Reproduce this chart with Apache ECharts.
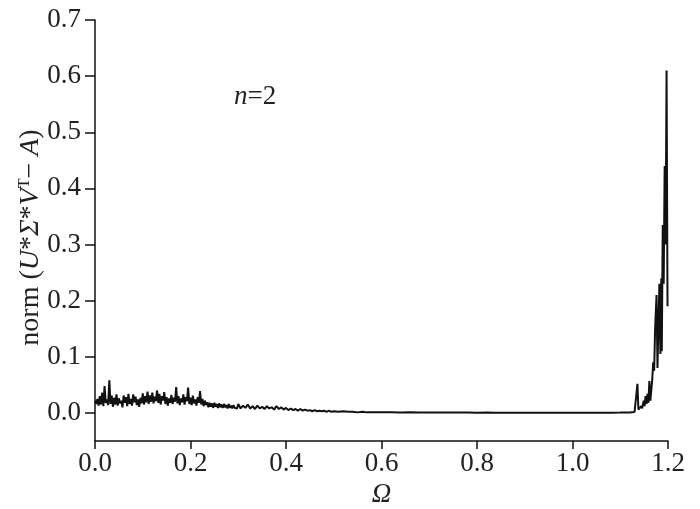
<!DOCTYPE html>
<html>
<head>
<meta charset="utf-8">
<script src="https://cdn.jsdelivr.net/npm/echarts@6/dist/echarts.min.js"></script>
<style>html,body{margin:0;padding:0;background:#fff;}#c{width:700px;height:509px;}</style>
</head>
<body>
<div id="c"></div>
<script>
// Ω values (x)
const omega = [
0.0000,0.0025,0.0050,0.0075,0.0100,0.0125,0.0150,0.0175,0.0200,0.0225,
0.0250,0.0275,0.0300,0.0325,0.0350,0.0375,0.0400,0.0425,0.0450,0.0475,
0.0500,0.0525,0.0550,0.0575,0.0600,0.0625,0.0650,0.0675,0.0700,0.0725,
0.0750,0.0775,0.0800,0.0825,0.0850,0.0875,0.0900,0.0925,0.0950,0.0975,
0.1000,0.1025,0.1050,0.1075,0.1100,0.1125,0.1150,0.1175,0.1200,0.1225,
0.1250,0.1275,0.1300,0.1325,0.1350,0.1375,0.1400,0.1425,0.1450,0.1475,
0.1500,0.1525,0.1550,0.1575,0.1600,0.1625,0.1650,0.1675,0.1700,0.1725,
0.1750,0.1775,0.1800,0.1825,0.1850,0.1875,0.1900,0.1925,0.1950,0.1975,
0.2000,0.2025,0.2050,0.2075,0.2100,0.2125,0.2150,0.2175,0.2200,0.2225,
0.2250,0.2275,0.2300,0.2325,0.2350,0.2375,0.2400,0.2425,0.2450,0.2475,
0.2500,0.2525,0.2550,0.2575,0.2600,0.2625,0.2650,0.2675,0.2700,0.2725,
0.2750,0.2775,0.2800,0.2825,0.2850,0.2875,0.2900,0.2925,0.2950,0.2975,
0.300,0.305,0.310,0.315,0.320,0.325,0.330,0.335,0.340,0.345,
0.350,0.355,0.360,0.365,0.370,0.375,0.380,0.385,0.390,0.395,
0.400,0.405,0.410,0.415,0.420,0.425,0.430,0.435,0.440,0.445,
0.450,0.455,0.460,0.465,0.470,0.475,0.480,0.485,0.490,0.495,
0.500,0.510,0.520,0.530,0.540,0.550,0.560,0.570,0.580,0.600,
0.620,0.640,0.660,0.680,0.700,0.720,0.740,0.760,0.780,0.800,
0.820,0.840,0.860,0.880,0.900,0.920,0.940,0.960,0.980,1.000,
1.020,1.040,1.060,1.080,1.100,1.120,1.125,1.130,1.133,1.136,
1.138,1.140,1.144,1.146,1.149,1.151,1.153,1.155,1.157,1.159,
1.161,1.163,1.165,1.167,1.169,1.171,1.173,1.176,1.178,1.180,
1.182,1.184,1.186,1.187,1.189,1.191,1.193,1.195,1.197,1.199
];
// norm(U*Σ*V^T − A) values (y)
const normVals = [
0.022,0.016,0.025,0.013,0.030,0.015,0.036,0.012,0.048,0.018,
0.024,0.014,0.058,0.016,0.031,0.011,0.027,0.015,0.033,0.013,
0.026,0.017,0.022,0.010,0.031,0.018,0.028,0.012,0.034,0.016,
0.025,0.013,0.033,0.019,0.029,0.014,0.024,0.011,0.027,0.017,
0.035,0.015,0.030,0.019,0.038,0.016,0.031,0.020,0.036,0.017,
0.029,0.021,0.040,0.018,0.034,0.015,0.030,0.022,0.037,0.016,
0.028,0.013,0.026,0.018,0.032,0.016,0.027,0.020,0.046,0.017,
0.030,0.014,0.026,0.019,0.033,0.015,0.028,0.021,0.045,0.016,
0.027,0.014,0.031,0.017,0.024,0.013,0.028,0.018,0.039,0.015,
0.025,0.012,0.022,0.014,0.019,0.010,0.018,0.011,0.017,0.009,
0.018,0.011,0.016,0.009,0.017,0.010,0.015,0.009,0.016,0.010,
0.014,0.008,0.016,0.009,0.013,0.008,0.014,0.009,0.012,0.008,
0.016,0.008,0.013,0.009,0.015,0.008,0.012,0.007,0.013,0.008,
0.011,0.007,0.012,0.008,0.010,0.006,0.012,0.007,0.010,0.006,
0.009,0.005,0.008,0.005,0.007,0.004,0.007,0.004,0.006,0.004,
0.005,0.003,0.005,0.003,0.004,0.003,0.004,0.002,0.004,0.002,
0.003,0.002,0.003,0.002,0.002,0.001,0.002,0.001,0.001,0.001,
0.001,0.0008,0.001,0.0007,0.0008,0.0006,0.0007,0.0006,0.0006,0.0005,
0.0006,0.0005,0.0005,0.0004,0.0005,0.0004,0.0005,0.0004,0.0004,0.0004,
0.0005,0.0004,0.0005,0.0005,0.0006,0.0008,0.001,0.002,0.003,0.052,
0.006,0.004,0.012,0.008,0.022,0.012,0.030,0.016,0.034,0.018,
0.057,0.022,0.040,0.060,0.090,0.075,0.150,0.210,0.080,0.160,
0.230,0.105,0.240,0.110,0.335,0.230,0.440,0.300,0.610,0.190
];
const xTicks = [0.0,0.2,0.4,0.6,0.8,1.0,1.2];
const yTicks = [0.0,0.1,0.2,0.3,0.4,0.5,0.6,0.7];

const seriesData = omega.map((x,i)=>[x, normVals[i]]);
const font = '"Liberation Serif","Times New Roman",serif';
const chart = echarts.init(document.getElementById('c'), null, {renderer:'canvas'});
chart.setOption({
  animation:false,
  backgroundColor:'#fff',
  grid:{left:95,right:32,top:20,bottom:68,containLabel:false,outerBoundsMode:'none'},
  xAxis:{
    type:'value',min:0,max:1.2,interval:0.2,
    axisLine:{onZero:false,lineStyle:{color:'#111',width:1.5}},
    axisTick:{inside:false,length:8,lineStyle:{color:'#111',width:1.5}},
    axisLabel:{fontFamily:font,fontSize:27,color:'#222',margin:9,formatter:v=>v.toFixed(1),
      customValues:xTicks},
    splitLine:{show:false},
    name:'Ω',nameLocation:'middle',nameGap:40,nameMoveOverlap:false,
    nameTextStyle:{fontFamily:font,fontSize:27,fontStyle:'italic',color:'#222'}
  },
  yAxis:{
    type:'value',min:-0.05,max:0.7,
    axisLine:{show:true,lineStyle:{color:'#111',width:1.5}},
    axisTick:{show:true,inside:false,length:10,customValues:yTicks,lineStyle:{color:'#111',width:1.5}},
    axisLabel:{fontFamily:font,fontSize:27,color:'#222',margin:14,formatter:v=>v.toFixed(1),
      customValues:yTicks},
    splitLine:{show:false},
    name:'{r|norm (}{i|U}{r|*}{i|Σ}{r|*}{i|V}{s|T}{r|− }{i|A}{r|)}',
    nameLocation:'middle',nameRotate:90,nameGap:50,nameMoveOverlap:false,
    nameTextStyle:{fontFamily:font,fontSize:28,color:'#222',padding:[0,14,0,0],
      rich:{
        r:{fontFamily:font,fontSize:28,color:'#222'},
        i:{fontFamily:font,fontSize:28,fontStyle:'italic',color:'#222'},
        s:{fontFamily:font,fontSize:16,color:'#222',verticalAlign:'top',padding:[0,0,12,0]}
      }}
  },
  graphic:[{
    type:'text',left:234,top:83,
    style:{text:'{i|n}{r|=2}',fontFamily:font,fontSize:27,fill:'#222',
      rich:{i:{fontFamily:font,fontSize:27,fontStyle:'italic',fill:'#222'},
            r:{fontFamily:font,fontSize:27,fill:'#222'}}}
  }],
  series:[{
    type:'line',data:seriesData,showSymbol:false,symbol:'none',
    lineStyle:{color:'#111',width:2},clip:false
  }]
});
</script>
</body>
</html>
